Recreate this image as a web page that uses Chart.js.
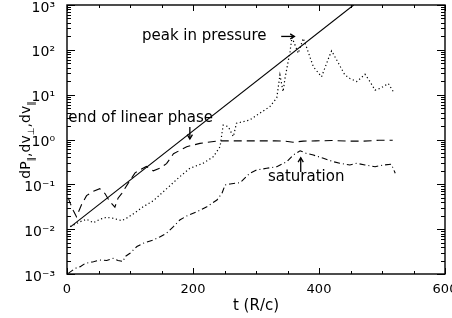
<!DOCTYPE html>
<html>
<head>
<meta charset="utf-8">
<script src="https://cdn.jsdelivr.net/npm/chart.js@4/dist/chart.umd.min.js"></script>
<style>
html,body{margin:0;padding:0;background:#fff;}
canvas{display:block;}
</style>
</head>
<body>
<canvas id="c" width="452" height="318"></canvas>
<script>
// ---- data ----
const tSolid = [6, 455];
const vSolid = [0.0114, 1000];

const tDashed = [2, 5, 10, 15, 23, 31, 42, 52, 60, 68, 76, 81, 87, 97, 108, 116, 126, 137, 148, 158, 169, 190, 211, 240, 270, 300, 330, 345, 359, 375, 395, 420, 445, 470, 495, 517];
const vDashed = [0.05, 0.038, 0.026, 0.019, 0.035, 0.056, 0.07, 0.08, 0.063, 0.041, 0.031, 0.049, 0.063, 0.105, 0.18, 0.21, 0.25, 0.2, 0.23, 0.29, 0.48, 0.69, 0.82, 0.93, 0.93, 0.93, 0.93, 0.92, 0.87, 0.92, 0.93, 0.95, 0.92, 0.92, 0.96, 0.96];

const tDotted = [5, 21, 31, 42, 52, 63, 73, 87, 97, 108, 121, 137, 150, 163, 179, 195, 216, 232, 243, 246, 248, 256, 264, 269, 290, 306, 322, 333, 338, 343, 346, 354, 357, 365, 367, 375, 380, 391, 404, 415, 420, 431, 441, 449, 460, 473, 481, 489, 497, 510, 518];
const vDotted = [0.0114, 0.0147, 0.0166, 0.0139, 0.0166, 0.0184, 0.0175, 0.0155, 0.0184, 0.0233, 0.0317, 0.043, 0.063, 0.092, 0.148, 0.228, 0.295, 0.41, 0.69, 1.38, 2.1, 1.93, 1.16, 2.3, 2.72, 3.85, 5.4, 8.5, 27.5, 11.7, 23, 91, 190, 100, 84, 180, 117, 42, 25, 64, 95, 50, 27.6, 23, 19.5, 28.5, 19.5, 12.6, 13.8, 17.7, 11.7];

const tDashDot = [2, 13, 21, 29, 42, 52, 63, 73, 81, 89, 92, 100, 111, 121, 137, 148, 158, 169, 179, 190, 206, 222, 238, 246, 251, 259, 275, 290, 301, 317, 333, 349, 359, 370, 380, 391, 407, 423, 433, 449, 460, 473, 489, 502, 515, 521];
const vDashDot = [0.00103, 0.00134, 0.00146, 0.00173, 0.00188, 0.00205, 0.002, 0.00224, 0.002, 0.0019, 0.00243, 0.0029, 0.0041, 0.00484, 0.00574, 0.0068, 0.0081, 0.0114, 0.016, 0.0197, 0.0245, 0.0317, 0.0447, 0.063, 0.097, 0.102, 0.109, 0.176, 0.209, 0.228, 0.247, 0.32, 0.45, 0.56, 0.49, 0.45, 0.38, 0.32, 0.295, 0.27, 0.295, 0.27, 0.247, 0.27, 0.28, 0.176];

const xTickValues = [0, 200, 400, 600];
const xTickLabels = ['0', '200', '400', '600'];
const yTickValues = [1e-3, 1e-2, 1e-1, 1e0, 1e1, 1e2, 1e3];
const yTickLabels = ['10\u207B\u00B3', '10\u207B\u00B2', '10\u207B\u00B9', '10\u2070', '10\u00B9', '10\u00B2', '10\u00B3'];

const xTitle = 't (R/c)';
const annotations = [
  {text: 'peak in pressure', t: 119, v: 199},
  {text: 'end of linear phase', t: 2, v: 2.94},
  {text: 'saturation', t: 319, v: 0.148}
];
const arrows = [
  {t0: 340, v0: 199, t1: 361, v1: 199},
  {t0: 195, v0: 1.9, t1: 195, v1: 1.03},
  {t0: 371, v0: 0.188, t1: 371, v1: 0.39}
];

// ---- build ----
const zip = (ts, vs) => ts.map((t, i) => ({x: t, y: vs[i]}));
const FONT = "'DejaVu Sans', sans-serif";

function arrowHead(ctx, x0, y0, x1, y1) {
  const ang = Math.atan2(y1 - y0, x1 - x0);
  const L = 5, W = 0.55;
  ctx.beginPath();
  ctx.moveTo(x1 - L * Math.cos(ang - W), y1 - L * Math.sin(ang - W));
  ctx.lineTo(x1, y1);
  ctx.lineTo(x1 - L * Math.cos(ang + W), y1 - L * Math.sin(ang + W));
  ctx.stroke();
}

const decor = {
  id: 'decor',
  afterDraw(chart) {
    const {ctx, chartArea: a, scales: {x, y}} = chart;
    ctx.save();
    ctx.strokeStyle = '#000';
    ctx.fillStyle = '#000';
    ctx.lineWidth = 1.4;
    ctx.setLineDash([]);
    ctx.strokeRect(a.left, a.top, a.right - a.left, a.bottom - a.top);
    ctx.lineWidth = 1;
    ctx.beginPath();
    for (let t = 0; t <= 600; t += 50) {
      const px = Math.round(x.getPixelForValue(t)) + 0.5;
      const len = (t % 200 === 0) ? 6 : 3;
      ctx.moveTo(px, a.bottom); ctx.lineTo(px, a.bottom - len);
      ctx.moveTo(px, a.top); ctx.lineTo(px, a.top + len);
    }
    for (let n = -3; n <= 3; n++) {
      for (let k = 1; k <= 9; k++) {
        if (n === 3 && k > 1) break;
        const v = k * Math.pow(10, n);
        const py = Math.round(y.getPixelForValue(v)) + 0.5;
        const len = k === 1 ? 8 : 4;
        ctx.moveTo(a.left, py); ctx.lineTo(a.left + len, py);
        ctx.moveTo(a.right, py); ctx.lineTo(a.right - len, py);
      }
    }
    ctx.stroke();

    ctx.font = '15px ' + FONT;
    ctx.textBaseline = 'middle';
    ctx.textAlign = 'left';
    annotations.forEach(an => {
      ctx.fillText(an.text, x.getPixelForValue(an.t), y.getPixelForValue(an.v));
    });
    ctx.lineWidth = 1.3;
    arrows.forEach(ar => {
      const x0 = x.getPixelForValue(ar.t0), y0 = y.getPixelForValue(ar.v0);
      const x1 = x.getPixelForValue(ar.t1), y1 = y.getPixelForValue(ar.v1);
      ctx.beginPath(); ctx.moveTo(x0, y0); ctx.lineTo(x1, y1); ctx.stroke();
      arrowHead(ctx, x0, y0, x1, y1);
    });

    ctx.font = '15px ' + FONT;
    ctx.textAlign = 'center';
    ctx.fillText(xTitle, (a.left + a.right) / 2, 306);

    ctx.save();
    ctx.translate(25, 140);
    ctx.rotate(-Math.PI / 2);
    const parts = [
      ['dP', false], ['\u2225', true], [',dv', false], ['\u22A5', true], [',dv', false], ['\u2225', true]
    ];
    const big = '14px ' + FONT, small = '9px ' + FONT;
    let total = 0;
    parts.forEach(p => { ctx.font = p[1] ? small : big; total += ctx.measureText(p[0]).width; });
    let cx = -total / 2;
    ctx.textAlign = 'left';
    ctx.textBaseline = 'alphabetic';
    parts.forEach(p => {
      ctx.font = p[1] ? small : big;
      ctx.fillText(p[0], cx, p[1] ? 9 : 5);
      cx += ctx.measureText(p[0]).width;
    });
    ctx.restore();
    ctx.restore();
  }
};

new Chart(document.getElementById('c'), {
  type: 'line',
  data: {
    datasets: [
      {data: zip(tSolid, vSolid), borderColor: '#000', borderWidth: 1.1},
      {data: zip(tDashed, vDashed), borderColor: '#000', borderWidth: 1.1, borderDash: [8, 5]},
      {data: zip(tDotted, vDotted), borderColor: '#000', borderWidth: 1.2, borderDash: [1.2, 2.6]},
      {data: zip(tDashDot, vDashDot), borderColor: '#000', borderWidth: 1.1, borderDash: [6, 3, 1, 3]}
    ]
  },
  options: {
    responsive: false,
    animation: false,
    devicePixelRatio: 1,
    parsing: false,
    layout: {padding: {left: 0, right: 7, top: 5, bottom: 0}},
    plugins: {legend: {display: false}, tooltip: {enabled: false}},
    elements: {point: {radius: 0}, line: {tension: 0, fill: false}},
    scales: {
      x: {
        type: 'linear', min: 0, max: 600,
        afterBuildTicks: s => { s.ticks = xTickValues.map(v => ({value: v})); },
        afterFit: s => { s.height = 44; s.paddingLeft = 0; s.paddingRight = 0; },
        grid: {display: false}, border: {display: false},
        ticks: {
          color: '#000', font: {family: FONT, size: 13}, padding: 0,
          maxRotation: 0, autoSkip: false,
          callback: (v, i) => xTickLabels[i]
        }
      },
      y: {
        type: 'logarithmic', min: 1e-3, max: 1e3,
        afterBuildTicks: s => { s.ticks = yTickValues.map(v => ({value: v})); },
        afterFit: s => { s.width = 67; s.paddingTop = 0; s.paddingBottom = 0; },
        grid: {display: false}, border: {display: false},
        ticks: {
          color: '#000', font: {family: FONT, size: 14}, padding: 4,
          autoSkip: false, labelOffset: 3,
          callback: (v, i) => yTickLabels[i]
        }
      }
    }
  },
  plugins: [decor]
});
</script>
</body>
</html>
